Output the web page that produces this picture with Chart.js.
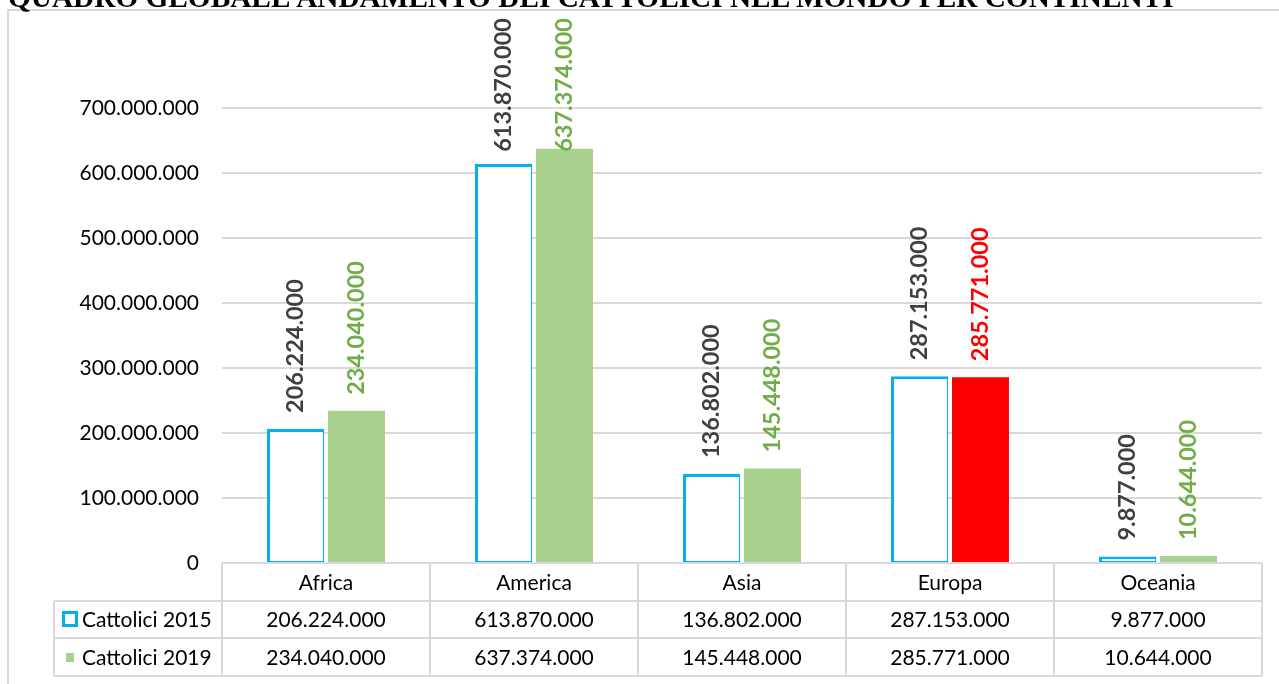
<!DOCTYPE html>
<html lang="it">
<head>
<meta charset="utf-8">
<title>Cattolici nel mondo per continente</title>
<script src="https://cdn.jsdelivr.net/npm/chart.js@4.4.1/dist/chart.umd.min.js"></script>
<style>
  html, body { margin: 0; padding: 0; background: #fff; overflow: hidden; }
  #pagina { position: relative; width: 1279px; height: 684px; overflow: hidden; }
  #cornice {
    position: absolute; left: 7px; top: 9px; width: 1300px; height: 700px;
    border-top: 2px solid #d9d9d9; border-left: 2px solid #d9d9d9;
  }
  #titolo {
    position: absolute; left: 8px; top: -17px; margin: 0;
    font: bold 29.3px "Liberation Serif", "Times New Roman", serif;
    line-height: 29px; white-space: nowrap; color: #000;
  }
  #grafico { position: absolute; left: 0; top: 0; }
</style>
</head>
<body>
<div id="pagina">
  <div id="cornice"></div>
  <canvas id="grafico" width="1279" height="684"></canvas>
  <h1 id="titolo">QUADRO GLOBALE ANDAMENTO DEI CATTOLICI NEL MONDO PER CONTINENTI</h1>
</div>
<script>
const continenti = ["Africa", "America", "Asia", "Europa", "Oceania"];
const cattolici2015 = [206224000, 613870000, 136802000, 287153000, 9877000];
const cattolici2019 = [234040000, 637374000, 145448000, 285771000, 10644000];
const nomiSerie = ["Cattolici 2015", "Cattolici 2019"];
const tickAsseY = [0, 100000000, 200000000, 300000000, 400000000, 500000000, 600000000, 700000000];

// colori (Europa 2019 evidenziata in rosso)
const colore2015 = "#00B0F0";
const riempimento2019 = ["#A9D18E", "#A9D18E", "#A9D18E", "#FF0000", "#A9D18E"];
const etichette2015 = "#404040";
const etichette2019 = ["#70AD47", "#70AD47", "#70AD47", "#FF0000", "#70AD47"];

const fontTesto = "Lato, Carlito, 'Open Sans', sans-serif";

function formatoItaliano(valore) {
  return String(Math.round(valore)).replace(/\B(?=(\d{3})+(?!\d))/g, ".");
}

const pluginEtichette = {
  id: "etichetteBarre",
  afterDatasetsDraw(chart) {
    const { ctx } = chart;
    ctx.save();
    ctx.font = "bold 23.5px " + fontTesto;
    ctx.textAlign = "left";
    ctx.textBaseline = "middle";

    chart.data.datasets.forEach((dataset, d) => {
      const meta = chart.getDatasetMeta(d);
      meta.data.forEach((barra, i) => {
        const testo = formatoItaliano(dataset.data[i]);
        const lunghezza = ctx.measureText(testo).width;
        const inizio = Math.max(barra.y - 16, 18 + lunghezza);

        ctx.fillStyle = d === 0 ? etichette2015 : etichette2019[i];
        ctx.save();
        ctx.translate(barra.x, inizio);
        ctx.rotate(-Math.PI / 2);
        ctx.fillText(testo, 0, 0);
        ctx.restore();
      });
    });
    ctx.restore();
  }
};

const pluginTabella = {
  id: "tabellaDati",
  afterDraw(chart) {
    const { ctx, chartArea } = chart;
    const asseX = chart.scales.x;
    const colonna = (chartArea.right - chartArea.left) / continenti.length;
    const righe = [chartArea.bottom, chartArea.bottom + 38, chartArea.bottom + 75, chartArea.bottom + 113];
    const sinistraLegenda = 54;

    ctx.save();
    ctx.strokeStyle = "#d9d9d9";
    ctx.lineWidth = 2;

    ctx.beginPath();
    ctx.moveTo(chartArea.left, righe[0]);
    ctx.lineTo(chartArea.right, righe[0]);
    for (let r = 1; r < righe.length; r++) {
      ctx.moveTo(sinistraLegenda, righe[r]);
      ctx.lineTo(chartArea.right, righe[r]);
    }
    ctx.moveTo(sinistraLegenda, righe[1]);
    ctx.lineTo(sinistraLegenda, righe[3]);
    for (let c = 0; c <= continenti.length; c++) {
      const x = chartArea.left + c * colonna;
      ctx.moveTo(x, righe[0]);
      ctx.lineTo(x, righe[3]);
    }
    ctx.stroke();

    ctx.fillStyle = "#000";
    ctx.font = "21px " + fontTesto;
    ctx.textAlign = "center";
    ctx.textBaseline = "middle";

    continenti.forEach((nome, i) => {
      const x = asseX.getPixelForValue(i);
      ctx.fillText(nome, x, (righe[0] + righe[1]) / 2 + 1);
      ctx.fillText(formatoItaliano(cattolici2015[i]), x, (righe[1] + righe[2]) / 2 + 1);
      ctx.fillText(formatoItaliano(cattolici2019[i]), x, (righe[2] + righe[3]) / 2 + 1);
    });

    // legenda nella tabella
    ctx.textAlign = "left";
    ctx.fillText(nomiSerie[0], 82, (righe[1] + righe[2]) / 2 + 1);
    ctx.fillText(nomiSerie[1], 82, (righe[2] + righe[3]) / 2 + 1);

    ctx.fillStyle = "#fff";
    ctx.strokeStyle = colore2015;
    ctx.lineWidth = 3;
    ctx.fillRect(63.5, 612.5, 13, 13);
    ctx.strokeRect(63.5, 612.5, 13, 13);

    ctx.fillStyle = riempimento2019[0];
    ctx.fillRect(66, 653, 8, 9);
    ctx.restore();
  }
};

new Chart(document.getElementById("grafico"), {
  type: "bar",
  data: {
    labels: continenti,
    datasets: [
      {
        label: nomiSerie[0],
        data: cattolici2015,
        backgroundColor: "#ffffff",
        borderColor: colore2015,
        borderWidth: { top: 3, left: 3, right: 1, bottom: 1 },
        borderSkipped: false,
        categoryPercentage: 0.5865,
        barPercentage: 0.934
      },
      {
        label: nomiSerie[1],
        data: cattolici2019,
        backgroundColor: riempimento2019,
        borderWidth: 0,
        categoryPercentage: 0.5865,
        barPercentage: 0.934
      }
    ]
  },
  options: {
    responsive: false,
    devicePixelRatio: 1,
    animation: false,
    layout: {
      padding: { left: 0, right: 17, top: 108, bottom: 121 }
    },
    scales: {
      x: {
        display: false
      },
      y: {
        min: 0,
        max: 700000000,
        afterBuildTicks: scala => {
          scala.ticks = tickAsseY.map(valore => ({ value: valore }));
        },
        afterFit: scala => {
          scala.width = 222;
        },
        border: { display: false },
        grid: {
          color: "#d9d9d9",
          lineWidth: 2,
          drawTicks: false
        },
        ticks: {
          padding: 23,
          color: "#000",
          font: { family: fontTesto, size: 21 },
          callback: valore => formatoItaliano(valore)
        }
      }
    },
    plugins: {
      legend: { display: false },
      tooltip: { enabled: false }
    }
  },
  plugins: [pluginEtichette, pluginTabella]
});
</script>
</body>
</html>
